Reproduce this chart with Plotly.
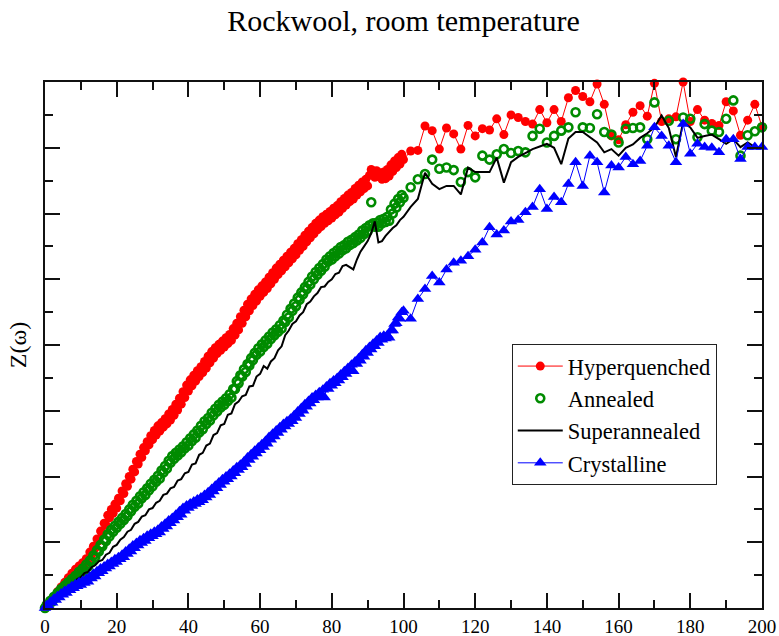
import plotly.graph_objects as go

# Frequency grids: half-unit steps up to 100 for the sampled spectra,
# unit steps for the superannealed curve, then steps of 2 up to 200
omega_fine = [k * 0.5 for k in range(0, 201)] + list(range(102, 201, 2))
omega = list(range(0, 101)) + list(range(102, 201, 2))

hyperquenched = [
    0.00, 0.04, 0.05, 0.11, 0.10, 0.17, 0.18, 0.25, 0.24, 0.32,
    0.31, 0.39, 0.38, 0.46, 0.45, 0.53, 0.50, 0.59, 0.55, 0.64,
    0.60, 0.69, 0.66, 0.75, 0.72, 0.85, 0.81, 0.94, 0.91, 1.05,
    1.02, 1.17, 1.14, 1.29, 1.26, 1.41, 1.37, 1.50, 1.44, 1.58,
    1.52, 1.67, 1.63, 1.78, 1.74, 1.89, 1.85, 2.00, 1.96, 2.11,
    2.07, 2.23, 2.19, 2.34, 2.29, 2.44, 2.39, 2.53, 2.48, 2.62,
    2.56, 2.70, 2.63, 2.77, 2.69, 2.82, 2.75, 2.88, 2.80, 2.95,
    2.86, 3.02, 2.93, 3.10, 3.01, 3.19, 3.10, 3.29, 3.20, 3.39,
    3.30, 3.47, 3.38, 3.54, 3.45, 3.61, 3.52, 3.67, 3.58, 3.75,
    3.65, 3.83, 3.73, 3.90, 3.80, 3.96, 3.87, 4.01, 3.92, 4.06,
    3.97, 4.11, 4.02, 4.16, 4.07, 4.25, 4.15, 4.33, 4.23, 4.43,
    4.33, 4.53, 4.43, 4.62, 4.52, 4.70, 4.60, 4.77, 4.67, 4.84,
    4.74, 4.90, 4.80, 4.96, 4.86, 5.03, 4.93, 5.10, 5.00, 5.17,
    5.07, 5.23, 5.13, 5.29, 5.19, 5.35, 5.25, 5.41, 5.31, 5.47,
    5.37, 5.54, 5.44, 5.60, 5.50, 5.67, 5.57, 5.73, 5.63, 5.79,
    5.69, 5.85, 5.75, 5.90, 5.80, 5.95, 5.85, 5.99, 5.89, 6.03,
    5.93, 6.08, 5.98, 6.12, 6.02, 6.18, 6.08, 6.23, 6.13, 6.28,
    6.18, 6.32, 6.22, 6.38, 6.28, 6.43, 6.33, 6.48, 6.38, 6.52,
    6.42, 6.58, 6.67, 6.64, 6.55, 6.65, 6.56, 6.62, 6.52, 6.63,
    6.53, 6.67, 6.57, 6.74, 6.64, 6.80, 6.70, 6.85, 6.75, 6.90,
    6.82,
    6.95, 6.96, 7.33, 7.26, 6.98, 7.30, 7.21, 6.98, 7.34, 7.18,
    7.29, 7.27, 7.44, 7.20, 7.50, 7.46, 7.40, 7.36, 7.58, 7.38,
    7.58, 7.40, 7.76, 7.87, 7.78, 7.70, 7.97, 7.66, 7.18, 7.12,
    7.35, 7.54, 7.64, 7.48, 7.98, 7.40, 7.44, 7.47, 8.00, 7.40,
    7.58, 7.42, 7.37, 7.34, 7.70, 7.56, 7.19, 7.42, 7.66, 7.32,
]

annealed = [
    0.00, 0.05, 0.05, 0.11, 0.10, 0.17, 0.16, 0.23, 0.22, 0.29,
    0.28, 0.34, 0.32, 0.39, 0.38, 0.44, 0.42, 0.49, 0.48, 0.55,
    0.52, 0.60, 0.57, 0.66, 0.63, 0.72, 0.70, 0.80, 0.77, 0.88,
    0.86, 0.96, 0.94, 1.04, 1.02, 1.12, 1.09, 1.19, 1.16, 1.25,
    1.22, 1.31, 1.28, 1.37, 1.34, 1.43, 1.40, 1.50, 1.47, 1.57,
    1.54, 1.63, 1.59, 1.70, 1.67, 1.76, 1.72, 1.82, 1.79, 1.89,
    1.85, 1.95, 1.92, 2.01, 1.97, 2.09, 2.06, 2.16, 2.12, 2.24,
    2.21, 2.31, 2.27, 2.36, 2.32, 2.41, 2.37, 2.46, 2.43, 2.52,
    2.47, 2.58, 2.54, 2.64, 2.59, 2.70, 2.67, 2.77, 2.72, 2.84,
    2.80, 2.89, 2.85, 2.97, 2.93, 3.03, 2.99, 3.09, 3.05, 3.14,
    3.09, 3.19, 3.15, 3.25, 3.20, 3.33, 3.33, 3.45, 3.42, 3.54,
    3.52, 3.63, 3.59, 3.71, 3.69, 3.80, 3.77, 3.88, 3.85, 3.95,
    3.90, 4.01, 3.97, 4.07, 4.02, 4.13, 4.09, 4.19, 4.15, 4.24,
    4.20, 4.30, 4.25, 4.37, 4.35, 4.46, 4.42, 4.55, 4.52, 4.63,
    4.59, 4.72, 4.69, 4.80, 4.77, 4.88, 4.85, 4.96, 4.92, 5.04,
    5.00, 5.11, 5.07, 5.17, 5.13, 5.23, 5.19, 5.30, 5.27, 5.35,
    5.30, 5.40, 5.35, 5.44, 5.39, 5.49, 5.44, 5.52, 5.47, 5.57,
    5.52, 5.60, 5.55, 5.64, 5.59, 5.68, 5.63, 5.74, 5.69, 5.78,
    5.73, 5.82, 6.17, 5.85, 5.80, 5.86, 5.80, 5.90, 5.85, 5.92,
    5.87, 5.95, 5.89, 6.06, 6.00, 6.15, 6.09, 6.22, 6.17, 6.28,
    6.24,
    6.40, 6.52, 6.60, 6.82, 6.68, 6.70, 6.66, 6.48, 6.63, 6.55,
    6.88, 6.82, 6.90, 6.98, 6.92, 6.95, 6.93, 7.18, 7.29, 7.08,
    7.18, 7.26, 7.31, 7.54, 7.31, 7.30, 7.51, 7.24, 7.20, 7.08,
    7.29, 7.30, 7.31, 7.13, 7.69, 8.04, 7.41, 7.13, 7.46, 7.44,
    7.16, 7.36, 7.26, 7.24, 7.44, 7.72, 6.88, 7.19, 7.25, 7.31,
]

superannealed = [
    0.00, 0.05, 0.10, 0.16, 0.20, 0.26, 0.30, 0.35, 0.38, 0.44,
    0.47, 0.53, 0.55, 0.62, 0.65, 0.71, 0.73, 0.81, 0.84, 0.93,
    0.96, 1.04, 1.08, 1.16, 1.19, 1.28, 1.31, 1.39, 1.41, 1.50,
    1.52, 1.60, 1.63, 1.72, 1.74, 1.82, 1.84, 1.94, 1.96, 2.05,
    2.07, 2.18, 2.20, 2.33, 2.36, 2.47, 2.50, 2.63, 2.66, 2.78,
    2.80, 2.94, 2.96, 3.10, 3.14, 3.22, 3.24, 3.37, 3.38, 3.52,
    3.56, 3.68, 3.64, 3.75, 3.80, 3.92, 3.98, 4.15, 4.22, 4.32,
    4.36, 4.45, 4.50, 4.62, 4.66, 4.74, 4.79, 4.88, 4.89, 4.96,
    5.00, 5.08, 5.10, 5.20, 5.22, 5.18, 5.15, 5.30, 5.42, 5.50,
    5.58, 5.70, 5.88, 5.56, 5.58, 5.66, 5.72, 5.78, 5.82, 5.90,
    5.95,
    6.10, 6.22, 6.62, 6.45, 6.37, 6.42, 6.42, 6.29, 6.70, 6.63,
    6.63, 6.63, 6.85, 6.47, 6.78, 6.86, 6.92, 6.98, 7.02, 7.06,
    7.00, 6.75, 7.14, 7.24, 7.24, 7.16, 7.08, 6.93, 6.98, 6.88,
    7.00, 7.05, 7.15, 7.22, 7.31, 7.49, 7.30, 6.86, 7.39, 7.31,
    7.15, 7.18, 7.20, 7.13, 7.06, 7.13, 7.01, 7.08, 7.01, 7.01,
]

crystalline = [
    0.00, 0.04, 0.03, 0.09, 0.08, 0.14, 0.12, 0.18, 0.16, 0.22,
    0.20, 0.26, 0.23, 0.29, 0.27, 0.33, 0.30, 0.36, 0.33, 0.39,
    0.35, 0.41, 0.38, 0.44, 0.40, 0.48, 0.45, 0.52, 0.48, 0.56,
    0.53, 0.60, 0.56, 0.63, 0.60, 0.67, 0.63, 0.70, 0.67, 0.74,
    0.70, 0.77, 0.74, 0.81, 0.77, 0.86, 0.82, 0.90, 0.86, 0.95,
    0.91, 0.99, 0.95, 1.03, 0.99, 1.06, 1.02, 1.10, 1.06, 1.13,
    1.09, 1.16, 1.12, 1.19, 1.15, 1.24, 1.20, 1.28, 1.24, 1.33,
    1.29, 1.37, 1.33, 1.42, 1.38, 1.47, 1.42, 1.52, 1.48, 1.56,
    1.52, 1.59, 1.55, 1.62, 1.58, 1.65, 1.61, 1.68, 1.64, 1.72,
    1.68, 1.76, 1.72, 1.81, 1.77, 1.86, 1.82, 1.91, 1.87, 1.96,
    1.92, 2.00, 1.96, 2.04, 2.00, 2.09, 2.05, 2.14, 2.10, 2.18,
    2.14, 2.23, 2.19, 2.29, 2.25, 2.34, 2.30, 2.39, 2.35, 2.44,
    2.40, 2.49, 2.45, 2.54, 2.50, 2.60, 2.56, 2.65, 2.61, 2.70,
    2.66, 2.75, 2.71, 2.80, 2.76, 2.84, 2.80, 2.88, 2.84, 2.93,
    2.89, 2.99, 2.95, 3.04, 3.00, 3.10, 3.06, 3.15, 3.11, 3.20,
    3.16, 3.24, 3.20, 3.28, 3.24, 3.32, 3.20, 3.37, 3.33, 3.42,
    3.38, 3.46, 3.42, 3.50, 3.46, 3.55, 3.51, 3.60, 3.56, 3.65,
    3.61, 3.70, 3.60, 3.75, 3.71, 3.80, 3.76, 3.86, 3.82, 3.92,
    3.88, 3.97, 3.93, 4.02, 3.98, 4.07, 4.03, 4.12, 4.08, 4.14,
    4.10, 4.15, 4.11, 4.22, 4.22, 4.32, 4.33, 4.42, 4.40, 4.50,
    4.52,
    4.40, 4.70, 4.85, 5.05, 4.95, 5.15, 5.25, 5.28, 5.35, 5.45,
    5.56, 5.79, 5.68, 5.74, 5.88, 5.90, 6.02, 6.10, 6.37, 6.07,
    6.25, 6.17, 6.45, 6.78, 6.42, 6.88, 6.78, 6.32, 6.73, 6.70,
    6.86, 6.75, 6.80, 7.03, 7.31, 7.18, 7.03, 6.78, 7.36, 6.91,
    7.06, 7.01, 7.00, 6.93, 7.13, 7.13, 6.83, 7.01, 7.01, 7.01,
]

x_ticks = list(range(0, 201, 20))
x_minor_ticks = list(range(10, 200, 20))
y_minor_ticks = [0.5 + k for k in range(8)]

RED = "#ff0000"
GREEN = "#008b00"
BLUE = "#0000ff"
SERIF = "Liberation Serif"
AXIS_COLOR = "#111111"

fig = go.Figure()

fig.add_trace(go.Scatter(
    x=omega_fine, y=hyperquenched, name="Hyperquenched", mode="lines+markers",
    line=dict(color=RED, width=1),
    marker=dict(symbol="circle", size=9, color=RED),
    cliponaxis=False,
))
fig.add_trace(go.Scatter(
    x=omega_fine, y=annealed, name="Annealed", mode="markers",
    marker=dict(symbol="circle-open", size=8, color=GREEN,
                line=dict(color=GREEN, width=2.6)),
    cliponaxis=False,
))
fig.add_trace(go.Scatter(
    x=omega, y=superannealed, name="Superannealed", mode="lines",
    line=dict(color="black", width=2),
    cliponaxis=False,
))
fig.add_trace(go.Scatter(
    x=omega_fine, y=crystalline, name="Crystalline", mode="lines+markers",
    line=dict(color=BLUE, width=1),
    marker=dict(symbol="triangle-up", size=11, color=BLUE),
    cliponaxis=False,
))

axis_common = dict(
    showline=True, linecolor=AXIS_COLOR, linewidth=1.5, mirror="allticks",
    ticks="inside", ticklen=15, tickwidth=1.5, tickcolor=AXIS_COLOR,
    showgrid=False, zeroline=False,
)

fig.update_layout(
    xaxis=dict(
        range=[0, 200], tickvals=x_ticks,
        tickfont=dict(family=SERIF, size=19, color="black"),
        minor=dict(tickvals=x_minor_ticks, ticks="inside", ticklen=8,
                   tickwidth=1.5, tickcolor=AXIS_COLOR, showgrid=False),
        **axis_common,
    ),
    yaxis=dict(
        range=[0, 8], dtick=1, showticklabels=False,
        minor=dict(tickvals=y_minor_ticks, ticks="inside", ticklen=8,
                   tickwidth=1.5, tickcolor=AXIS_COLOR, showgrid=False),
        title=dict(text="Z(\u03c9)",
                   font=dict(family=SERIF, size=24, color="black"),
                   standoff=10),
        **axis_common,
    ),
    # short ticks repeated along the top and right edges of the frame
    xaxis2=dict(
        overlaying="x", side="top", anchor="y", range=[0, 200],
        tickvals=x_minor_ticks, ticks="inside", ticklen=8, tickwidth=1.5,
        tickcolor=AXIS_COLOR, showticklabels=False, showline=False,
        showgrid=False, zeroline=False,
    ),
    yaxis2=dict(
        overlaying="y", side="right", anchor="x", range=[0, 8],
        tickvals=y_minor_ticks, ticks="inside", ticklen=8, tickwidth=1.5,
        tickcolor=AXIS_COLOR, showticklabels=False, showline=False,
        showgrid=False, zeroline=False,
    ),
    width=779, height=636,
    margin=dict(l=45, r=17, t=82, b=28, autoexpand=False),
    paper_bgcolor="white", plot_bgcolor="white",
    font=dict(family=SERIF, color="black"),
    title=dict(text="Rockwool, room temperature", x=0.5, xref="paper",
               xanchor="center", y=1 - 20 / 636, yanchor="middle",
               font=dict(family=SERIF, size=30, color="black")),
    legend=dict(
        x=0.651, y=0.502, xanchor="left", yanchor="top",
        bgcolor="white", bordercolor="#222222", borderwidth=1,
        font=dict(family=SERIF, size=22.5, color="black"),
        itemwidth=45, tracegroupgap=0,
    ),
    showlegend=True,
)

fig.write_html("out.html")
